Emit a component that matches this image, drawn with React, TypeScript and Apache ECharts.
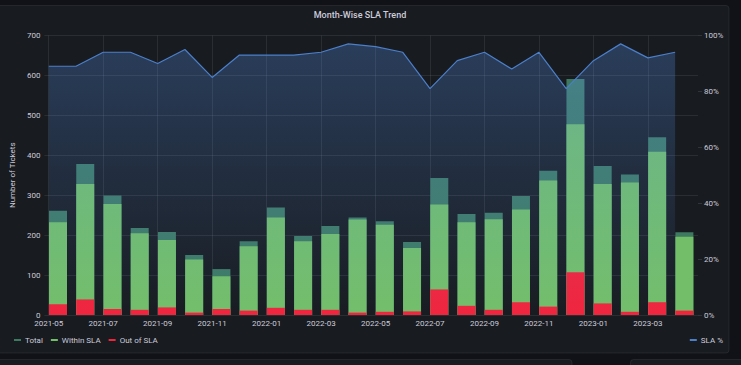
import React, { useEffect, useRef } from "react";
import * as echarts from "echarts";

const months = [
  "2021-05", "2021-06", "2021-07", "2021-08", "2021-09", "2021-10", "2021-11", "2021-12",
  "2022-01", "2022-02", "2022-03", "2022-04", "2022-05", "2022-06", "2022-07", "2022-08",
  "2022-09", "2022-10", "2022-11", "2022-12", "2023-01", "2023-02", "2023-03", "2023-04",
];
const tickLabels = [
  "2021-05", "2021-07", "2021-09", "2021-11", "2022-01", "2022-03",
  "2022-05", "2022-07", "2022-09", "2022-11", "2023-01", "2023-03",
];
const totalTickets = [261, 378, 299, 218, 208, 150, 115, 185, 269, 198, 223, 244, 235, 183, 343, 253, 256, 298, 361, 591, 373, 352, 445, 207];
const withinSla = [232, 328, 278, 205, 188, 139, 97, 172, 244, 185, 203, 239, 226, 168, 277, 232, 240, 264, 337, 478, 328, 332, 409, 196];
const outOfSla = [27, 39, 15, 13, 19, 6, 15, 11, 18, 13, 13, 6, 8, 9, 64, 23, 13, 32, 21, 107, 29, 8, 32, 11];
const slaPercent = [89, 89, 94, 94, 90, 95, 85, 93, 93, 93, 94, 97, 96, 94, 81, 91, 94, 88, 94, 81, 91, 97, 92, 94];
const ticketTicks = { min: 0, max: 700, interval: 100 };
const percentTicks = { min: 0, max: 100, interval: 20 };

const TEXT = "#ccccdc";
const GRID = "rgba(204,204,220,0.1)";
const FONT = "Roboto";

export default function App() {
  const ref = useRef<HTMLDivElement>(null);
  useEffect(() => {
    if (!ref.current) return;
    const chart = echarts.init(ref.current, undefined, { renderer: "svg" });
    const tickIdx = tickLabels.map((t) => months.indexOf(t));
    const option: any = {
      animation: false,
      backgroundColor: "#111217",
      textStyle: { fontFamily: FONT },
      graphic: [
        {
          type: "rect", z: -10, silent: true,
          shape: { x: -3, y: 5.5, width: 732, height: 347.5, r: 3 },
          style: { fill: "#181b1f", stroke: "rgba(204,204,220,0.09)", lineWidth: 1 },
        },
        {
          type: "rect", z: -10, silent: true,
          shape: { x: -3, y: 359.5, width: 575, height: 30, r: 3 },
          style: { fill: "#181b1f", stroke: "rgba(204,204,220,0.09)", lineWidth: 1 },
        },
        {
          type: "rect", z: -10, silent: true,
          shape: { x: 630.5, y: 359.5, width: 130, height: 30, r: 3 },
          style: { fill: "#181b1f", stroke: "rgba(204,204,220,0.09)", lineWidth: 1 },
        },
        {
          type: "text", z: 10, x: 360, y: 15,
          style: {
            text: "Month-Wise SLA Trend", fill: TEXT, align: "center", verticalAlign: "middle",
            font: `500 9px ${FONT}`,
          },
        },
      ],
      legend: [
        {
          data: ["Total", "Within SLA", "Out of SLA"],
          left: 14, top: 336, padding: 0, itemGap: 8, itemWidth: 7, itemHeight: 2, icon: "rect",
          textStyle: { color: TEXT, fontSize: 8, fontFamily: FONT, padding: [0, 0, 0, -1] },
        },
        {
          data: ["SLA %"],
          right: 18, top: 336, padding: 0, itemWidth: 7, itemHeight: 2, icon: "rect",
          textStyle: { color: TEXT, fontSize: 8, fontFamily: FONT, padding: [0, 0, 0, -1] },
        },
      ],
      grid: { left: 35.5, right: 43, top: 35.5, bottom: 50 },
      xAxis: [
        { type: "category", data: months, show: false, boundaryGap: true, position: "top" },
        {
          type: "value", min: -0.16, max: 23.84, position: "bottom",
          axisLine: { show: false },
          axisTick: { show: false, customValues: tickIdx },
          axisLabel: {
            customValues: tickIdx, color: TEXT, fontSize: 8, margin: 4, fontFamily: FONT,
            formatter: (v: number) => months[Math.round(v)] ?? "",
          },
          splitLine: { show: true, lineStyle: { color: GRID, width: 1 } },
        },
      ],
      yAxis: [
        {
          type: "value", ...ticketTicks,
          name: "Number of Tickets", nameLocation: "middle", nameGap: 25,
          nameTextStyle: { color: TEXT, fontSize: 8, fontFamily: FONT },
          axisLine: { show: false }, axisTick: { show: false },
          axisLabel: { color: TEXT, fontSize: 8, margin: 4, fontFamily: FONT },
          splitLine: { lineStyle: { color: GRID, width: 1 } },
        },
        {
          type: "value", ...percentTicks, position: "right",
          axisLine: { show: false },
          axisTick: { show: true, length: 4, lineStyle: { color: "rgba(204,204,220,0.15)" } },
          axisLabel: { color: TEXT, fontSize: 8, margin: 6, fontFamily: FONT, formatter: "{value}%" },
          splitLine: { show: false },
        },
      ],
      series: [
        {
          name: "Total", type: "bar", xAxisIndex: 0, yAxisIndex: 0, data: totalTickets,
          barWidth: 18, barGap: "-100%",
          itemStyle: { color: "#3e7a62" },
        },
        {
          name: "Within SLA", type: "bar", xAxisIndex: 0, yAxisIndex: 0, data: withinSla,
          barWidth: 18, barGap: "-100%",
          itemStyle: { color: "#73BF69" },
        },
        {
          name: "Out of SLA", type: "bar", xAxisIndex: 0, yAxisIndex: 0, data: outOfSla,
          barWidth: 18, barGap: "-100%",
          itemStyle: { color: "#F2243C" },
        },
        {
          name: "SLA %", type: "line", xAxisIndex: 1, yAxisIndex: 1,
          data: slaPercent.map((v, i) => [i, v]),
          symbol: "none",
          itemStyle: { color: "#4b7fca" },
          lineStyle: { color: "#4b7fca", width: 1.2 },
          areaStyle: {
            color: new echarts.graphic.LinearGradient(0, 0, 0, 1, [
              { offset: 0, color: "rgba(87,148,242,0.40)" },
              { offset: 1, color: "rgba(87,148,242,0.02)" },
            ]),
          },
        },
      ],
    };
    chart.setOption(option);
    return () => chart.dispose();
  }, []);
  return (
    <div
      ref={ref}
      style={{ position: "fixed", left: 0, top: 0, width: 741, height: 365, background: "#111217" }}
    />
  );
}
